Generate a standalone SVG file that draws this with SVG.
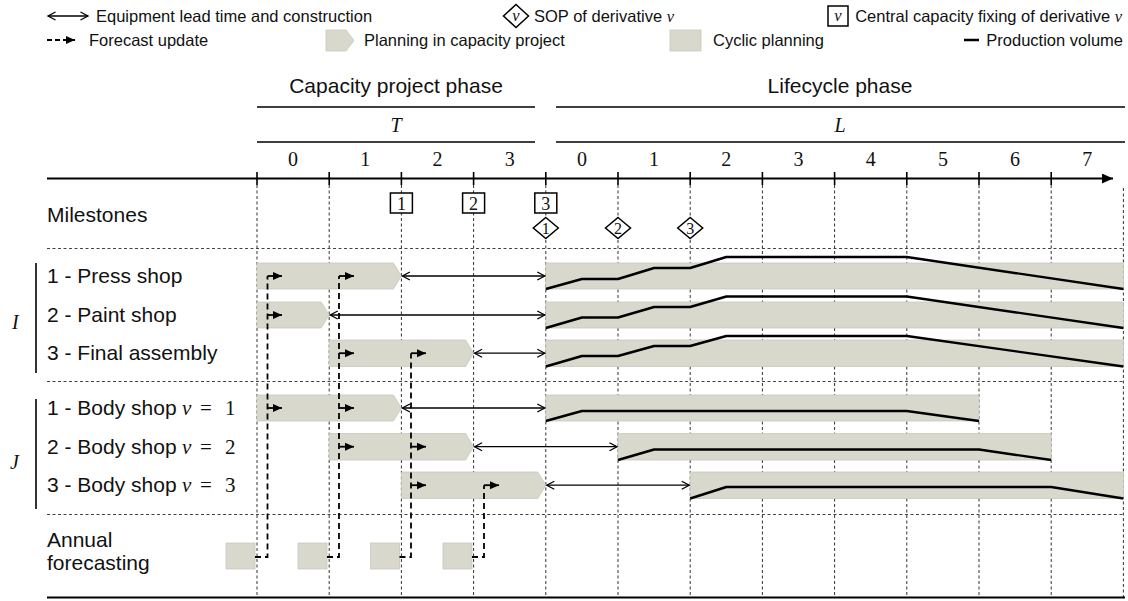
<svg xmlns="http://www.w3.org/2000/svg" width="1128" height="601" viewBox="0 0 1128 601">
<defs>
  <marker id="open" markerUnits="userSpaceOnUse" markerWidth="12" markerHeight="12" refX="9" refY="5" orient="auto-start-reverse">
    <path d="M1.5,1 L9,5 L1.5,9" fill="none" stroke="#000" stroke-width="1.3"/>
  </marker>
  <marker id="tri" markerUnits="userSpaceOnUse" markerWidth="12" markerHeight="12" refX="9" refY="4" orient="auto">
    <path d="M0,0 L9,4 L0,8 z" fill="#000"/>
  </marker>
  <marker id="axisHead" markerUnits="userSpaceOnUse" markerWidth="14" markerHeight="12" refX="11" refY="5" orient="auto">
    <path d="M0,0 L11,5 L0,10 z" fill="#000"/>
  </marker>
</defs>
<style>
  text { font-family: "Liberation Sans", Arial, sans-serif; fill: #111; }
  .lg { font-size: 16.5px; }
  .lb { font-size: 21px; }
  .m { font-family: "Liberation Serif", "Times New Roman", serif; }
  .mi { font-family: "Liberation Serif", "Times New Roman", serif; font-style: italic; }
  .num { font-family: "Liberation Serif", "Times New Roman", serif; font-size: 20px; text-anchor: middle; }
  .grid { fill: none; stroke: #333; stroke-width: 1; stroke-dasharray: 3 2.5; }
  .sep { fill: none; stroke: #444; stroke-width: 1; stroke-dasharray: 3 2.5; }
  .bar { fill: #d9d8cd; stroke: #c9c8be; stroke-width: 0.8; }
  .vol { fill: none; stroke: #000; stroke-width: 2.4; stroke-linejoin: round; }
  .lead { fill: none; stroke: #000; stroke-width: 1.3; marker-start: url(#open); marker-end: url(#open); }
  .fc { fill: none; stroke: #000; stroke-width: 1.8; stroke-dasharray: 6 4; }
  .stub { fill: none; stroke: #000; stroke-width: 1.8; marker-end: url(#tri); }
  .rule { fill: none; stroke: #000; stroke-width: 1.5; }
  .ms { fill: #fff; stroke: #000; stroke-width: 1.5; }
</style>

<!-- legend -->
<g id="legend">
  <path class="lead" d="M48,16 H88"/>
  <text class="lg" x="96" y="22">Equipment lead time and construction</text>
  <polygon class="ms" points="516,4.5 528.5,16 516,27.5 503.5,16"/>
  <text class="lg mi" x="516" y="21" text-anchor="middle">v</text>
  <text class="lg" x="534" y="22">SOP of derivative <tspan class="mi">v</tspan></text>
  <rect class="ms" x="828" y="6" width="20" height="20"/>
  <text class="lg mi" x="838" y="21" text-anchor="middle">v</text>
  <text class="lg" x="1122" y="22" text-anchor="end">Central capacity fixing of derivative <tspan class="mi">v</tspan></text>

  <path d="M47,40 H75" fill="none" stroke="#000" stroke-width="1.8" stroke-dasharray="5 3" marker-end="url(#tri)"/>
  <text class="lg" x="89" y="46">Forecast update</text>
  <polygon class="bar" points="326,30 346,30 354,40.5 346,51 326,51"/>
  <text class="lg" x="364" y="46">Planning in capacity project</text>
  <rect class="bar" x="670" y="30" width="31" height="21"/>
  <text class="lg" x="713" y="46">Cyclic planning</text>
  <path d="M964,40 H979" stroke="#000" stroke-width="2.5"/>
  <text class="lg" x="1123" y="46" text-anchor="end">Production volume</text>
</g>

<!-- phase headers and time scale -->
<g id="header">
  <text class="lb" x="396" y="93" text-anchor="middle">Capacity project phase</text>
  <text class="lb" x="840" y="93" text-anchor="middle">Lifecycle phase</text>
  <path class="rule" d="M257,107 H535 M556,107 H1125 M257,142 H535 M556,142 H1125"/>
  <text class="mi" x="396" y="132" font-size="20" text-anchor="middle">T</text>
  <text class="mi" x="840" y="132" font-size="20" text-anchor="middle">L</text>
  <text class="num" x="293.1" y="166">0</text>
  <text class="num" x="365.3" y="166">1</text>
  <text class="num" x="437.5" y="166">2</text>
  <text class="num" x="509.7" y="166">3</text>
  <text class="num" x="581.9" y="166">0</text>
  <text class="num" x="654.1" y="166">1</text>
  <text class="num" x="726.3" y="166">2</text>
  <text class="num" x="798.5" y="166">3</text>
  <text class="num" x="870.7" y="166">4</text>
  <text class="num" x="942.9" y="166">5</text>
  <text class="num" x="1015.1" y="166">6</text>
  <text class="num" x="1087.3" y="166">7</text>
</g>

<!-- year grid -->
<g id="grid">
  <path class="grid" d="M257,185 V597 M329.2,185 V597 M401.4,185 V597 M473.6,185 V597 M545.8,185 V597 M618,185 V597 M690.2,185 V597 M762.4,185 V597 M834.6,185 V597 M906.8,185 V597 M979,185 V597 M1051.2,185 V597 M1123.4,188 V597"/>
  <path class="sep" d="M47,248.5 H1125 M47,381.5 H1125 M47,514.5 H1125"/>
</g>

<!-- time axis -->
<g id="axis">
  <path d="M47,178.5 H1113" stroke="#000" stroke-width="1.8" marker-end="url(#axisHead)"/>
  <path d="M257,172 V185 M329.2,172 V185 M401.4,172 V185 M473.6,172 V185 M545.8,172 V185 M618,172 V185 M690.2,172 V185 M762.4,172 V185 M834.6,172 V185 M906.8,172 V185 M979,172 V185 M1051.2,172 V185" stroke="#000" stroke-width="1.6"/>
</g>

<!-- milestones -->
<g id="milestones">
  <text class="lb" x="47" y="222">Milestones</text>
  <g id="fix-1"><rect class="ms" x="390.4" y="193" width="22" height="20"/><text class="m" x="401.4" y="209.5" font-size="18" text-anchor="middle">1</text></g>
  <g id="fix-2"><rect class="ms" x="462.6" y="193" width="22" height="20"/><text class="m" x="473.6" y="209.5" font-size="18" text-anchor="middle">2</text></g>
  <g id="fix-3"><rect class="ms" x="534.8" y="193" width="22" height="20"/><text class="m" x="545.8" y="209.5" font-size="18" text-anchor="middle">3</text></g>
  <g id="sop-1"><polygon class="ms" points="545.8,217.5 558.3,228 545.8,238.5 533.3,228"/><text class="m" x="545.8" y="234" font-size="16" text-anchor="middle">1</text></g>
  <g id="sop-2"><polygon class="ms" points="618,217.5 630.5,228 618,238.5 605.5,228"/><text class="m" x="618" y="234" font-size="16" text-anchor="middle">2</text></g>
  <g id="sop-3"><polygon class="ms" points="690.2,217.5 702.7,228 690.2,238.5 677.7,228"/><text class="m" x="690.2" y="234" font-size="16" text-anchor="middle">3</text></g>
</g>

<!-- group labels -->
<g id="group-I">
  <path d="M36,263 V373" stroke="#000" stroke-width="1.6"/>
  <text class="mi" x="12" y="329" font-size="20">I</text>
</g>
<g id="group-J">
  <path d="M36,399 V509" stroke="#000" stroke-width="1.6"/>
  <text class="mi" x="10" y="469" font-size="20">J</text>
</g>

<!-- shops of group I -->
<g id="press-shop">
  <text class="lb" x="47" y="283">1 - Press shop</text>
  <polygon class="bar" points="257,263 393.4,263 401.4,276 393.4,289 257,289"/>
  <rect class="bar" x="545.8" y="263" width="577.6" height="26"/>
  <path class="vol" d="M545.8,289 L581.9,279 L618,279 L654.1,268 L690.2,268 L726.3,257 L906.8,257 L1123.4,289"/>
</g>
<g id="paint-shop">
  <text class="lb" x="47" y="322">2 - Paint shop</text>
  <polygon class="bar" points="257,302 321.2,302 329.2,315 321.2,328 257,328"/>
  <rect class="bar" x="545.8" y="302" width="577.6" height="26"/>
  <path class="vol" d="M545.8,328 L581.9,317.5 L618,317.5 L654.1,307 L690.2,307 L726.3,296.5 L906.8,296.5 L1123.4,328"/>
</g>
<g id="final-assembly">
  <text class="lb" x="47" y="360">3 - Final assembly</text>
  <polygon class="bar" points="329.2,340 465.6,340 473.6,353.2 465.6,366.5 329.2,366.5"/>
  <rect class="bar" x="545.8" y="340" width="577.6" height="26.5"/>
  <path class="vol" d="M545.8,366.5 L581.9,356 L618,356 L654.1,346 L690.2,346 L726.3,336 L906.8,336 L1123.4,366.5"/>
</g>

<!-- body shops of group J -->
<g id="body-shop-1">
  <text class="lb" x="47" y="415">1 - Body shop<tspan class="mi" x="182">v</tspan><tspan class="m" x="200">=</tspan><tspan class="m" x="225">1</tspan></text>
  <polygon class="bar" points="257,395 393.4,395 401.4,408 393.4,421 257,421"/>
  <rect class="bar" x="545.8" y="395" width="433.2" height="26"/>
  <path class="vol" d="M545.8,421 L581.9,411 L906.8,411 L979,421"/>
</g>
<g id="body-shop-2">
  <text class="lb" x="47" y="453.5">2 - Body shop<tspan class="mi" x="182">v</tspan><tspan class="m" x="200">=</tspan><tspan class="m" x="225">2</tspan></text>
  <polygon class="bar" points="329.2,433.5 465.6,433.5 473.6,446.7 465.6,460 329.2,460"/>
  <rect class="bar" x="618" y="433.5" width="433.2" height="26.5"/>
  <path class="vol" d="M618,460 L654.1,449.5 L979,449.5 L1051.2,460"/>
</g>
<g id="body-shop-3">
  <text class="lb" x="47" y="492">3 - Body shop<tspan class="mi" x="182">v</tspan><tspan class="m" x="200">=</tspan><tspan class="m" x="225">3</tspan></text>
  <polygon class="bar" points="401.4,472 537.8,472 545.8,485.2 537.8,498.5 401.4,498.5"/>
  <rect class="bar" x="690.2" y="472" width="433.2" height="26.5"/>
  <path class="vol" d="M690.2,498.5 L726.3,487 L1051.2,487 L1123.4,498.5"/>
</g>

<!-- annual forecasting -->
<g id="annual-forecasting">
  <text class="lb" x="47" y="547">Annual</text>
  <text class="lb" x="47" y="570">forecasting</text>
  <rect class="bar" x="226" y="543" width="29" height="26"/>
  <rect class="bar" x="298" y="543" width="29" height="26"/>
  <rect class="bar" x="370.5" y="543" width="29" height="26"/>
  <rect class="bar" x="443" y="543" width="29" height="26"/>
</g>

<!-- connectors: equipment lead time and forecast updates -->
<g id="connectors">
  <path class="lead" d="M402.4,276 H544.8"/>
  <path class="lead" d="M330.2,315 H544.8"/>
  <path class="lead" d="M474.6,353.2 H544.8"/>
  <path class="lead" d="M402.4,408 H544.8"/>
  <path class="lead" d="M474.6,446.7 H617"/>
  <path class="lead" d="M546.8,485.2 H689.2"/>

  <path class="fc" d="M255,557 H267.5 V276"/>
  <path class="fc" d="M327,557 H339 V276"/>
  <path class="fc" d="M399.5,557 H411 V353.2"/>
  <path class="fc" d="M472,557 H484 V485.2"/>

  <path class="stub" d="M267.5,276 H282"/>
  <path class="stub" d="M267.5,315 H282"/>
  <path class="stub" d="M267.5,408 H282"/>
  <path class="stub" d="M339,276 H354"/>
  <path class="stub" d="M339,353.2 H354"/>
  <path class="stub" d="M339,408 H354"/>
  <path class="stub" d="M339,446.7 H354"/>
  <path class="stub" d="M411,353.2 H426"/>
  <path class="stub" d="M411,446.7 H426"/>
  <path class="stub" d="M411,485.2 H426"/>
  <path class="stub" d="M484,485.2 H499"/>
</g>

<path d="M47,597.5 H1125" stroke="#000" stroke-width="2"/>
</svg>
